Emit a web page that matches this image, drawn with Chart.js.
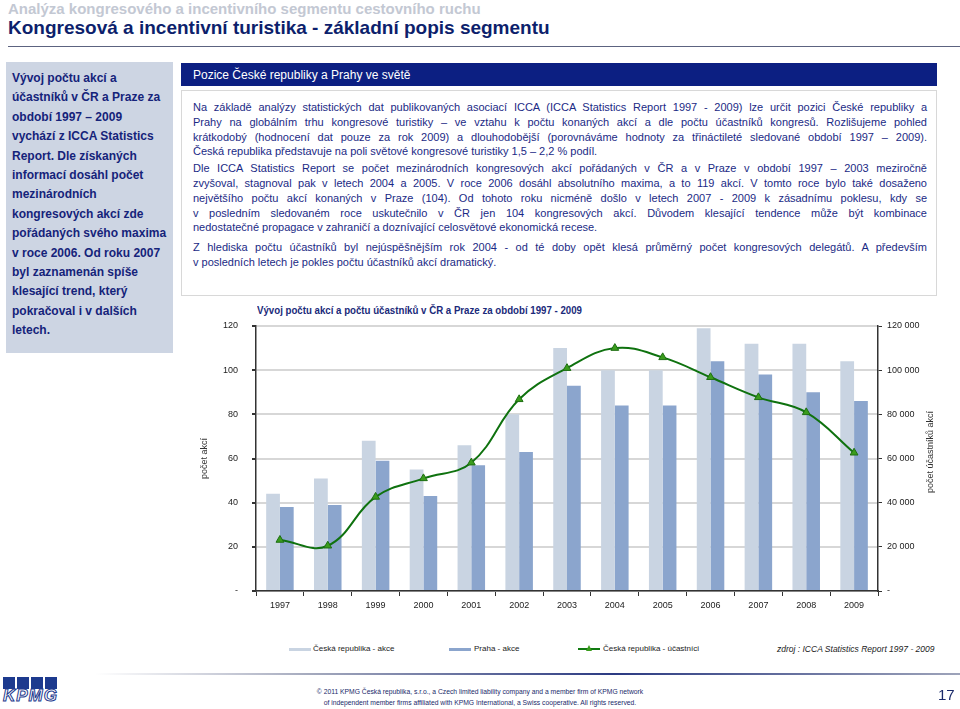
<!DOCTYPE html>
<html>
<head>
<meta charset="utf-8">
<script src="https://cdn.jsdelivr.net/npm/chart.js@4.4.1/dist/chart.umd.min.js"></script>
<style>
  body { margin: 0; width: 960px; height: 709px; position: relative; overflow: hidden; background: #fff;
         font-family: "Liberation Sans", Arial, sans-serif; }
  .abs { position: absolute; white-space: nowrap; }
  #sup { left: 8px; top: 0px; font-size: 15px; font-weight: bold; color: #c3c8d3; }
  #head { left: 8px; top: 17px; font-size: 19px; font-weight: bold; color: #0d1f6c; }
  #rule { left: 8px; top: 46px; width: 952px; height: 1px; background: #5c6380; }
  #side { left: 6px; top: 62px; width: 167px; height: 291px; background: #cdd5e3; }
  #sideText { left: 12px; top: 69px; font-size: 12px; font-weight: bold; color: #15237a; line-height: 19.4px; }
  #bar { left: 181px; top: 63px; width: 756px; height: 23px; background: #0c1f82; }
  #barText { left: 193px; top: 68px; font-size: 12px; color: #fff; }
  #box { left: 181px; top: 90px; width: 754px; height: 204px; border: 1px solid #d8d8d8; }
  #body { left: 193px; top: 100px; width: 734px; font-size: 11px; color: #1b2a85; line-height: 14.8px; }
  #body div { white-space: nowrap; }
  #body .j { text-align: justify; text-align-last: justify; }
  #body .p { margin-top: 2px; }
  #body .p3 { margin-top: 5px; }
  #ctitle { left: 257px; top: 304px; font-size: 11px; font-weight: bold; color: #1a2a7a; transform: scaleX(0.88); transform-origin: left; }
  #canvasWrap { left: 190px; top: 300px; width: 760px; height: 320px; }
  #rtitle { left: 930px; top: 452px; font-size: 9px; color: #333; transform: translate(-50%, -50%) rotate(-90deg); }
  .leg { top: 644px; font-size: 8px; color: #222; }
  .sw { position: absolute; top: 648px; width: 22px; height: 3px; }
  #zdroj { left: 777px; top: 644px; font-size: 8.5px; font-style: italic; color: #222; }
  #fline { left: 95px; top: 673px; width: 865px; height: 2px;
           background: linear-gradient(to right, rgba(160,165,185,0) 0%, #a4a9bd 25%, #2b3a82 60%, #9ea4ba 100%); }
  #copy { left: 480px; top: 686px; transform: translateX(-50%) scaleX(0.9); font-size: 7.5px; color: #1a2a6a; text-align: center; line-height: 11px; }
  #page { left: 938px; top: 686px; font-size: 15px; color: #1a2a6a; }
  .kb { position: absolute; top: 677px; width: 12px; height: 12px; background: #1d3a8e; }
  #klogo { left: 3px; top: 686px; font-size: 17px; font-style: italic; font-weight: bold; color: #fff;
           -webkit-text-stroke: 1px #1d3a8e; letter-spacing: 1px; }
</style>
</head>
<body>
<div id="sup" class="abs">Analýza kongresového a incentivního segmentu cestovního ruchu</div>
<div id="head" class="abs">Kongresová a incentivní turistika - základní popis segmentu</div>
<div id="rule" class="abs"></div>

<div id="side" class="abs"></div>
<div id="sideText" class="abs">Vývoj počtu akcí a<br>účastníků v ČR a Praze za<br>období 1997 – 2009<br>vychází z ICCA Statistics<br>Report. Dle získaných<br>informací dosáhl počet<br>mezinárodních<br>kongresových akcí zde<br>pořádaných svého maxima<br>v roce 2006. Od roku 2007<br>byl zaznamenán spíše<br>klesající trend, který<br>pokračoval i v dalších<br>letech.</div>

<div id="bar" class="abs"></div>
<div id="barText" class="abs">Pozice České republiky a Prahy ve světě</div>
<div id="box" class="abs"></div>
<div id="body" class="abs">
  <div class="j">Na základě analýzy statistických dat publikovaných asociací ICCA (ICCA Statistics Report 1997 - 2009) lze určit pozici České republiky a</div>
  <div class="j">Prahy na globálním trhu kongresové turistiky – ve vztahu k počtu konaných akcí a dle počtu účastníků kongresů. Rozlišujeme pohled</div>
  <div class="j">krátkodobý (hodnocení dat pouze za rok 2009) a dlouhodobější (porovnáváme hodnoty za třináctileté sledované období 1997 – 2009).</div>
  <div>Česká republika představuje na poli světové kongresové turistiky 1,5 – 2,2 % podíl.</div>
  <div class="j p">Dle ICCA Statistics Report se počet mezinárodních kongresových akcí pořádaných v ČR a v Praze v období 1997 – 2003 meziročně</div>
  <div class="j">zvyšoval, stagnoval pak v letech 2004 a 2005. V roce 2006 dosáhl absolutního maxima, a to 119 akcí. V tomto roce bylo také dosaženo</div>
  <div class="j">největšího počtu akcí konaných v Praze (104). Od tohoto roku nicméně došlo v letech 2007 - 2009 k zásadnímu poklesu, kdy se</div>
  <div class="j">v posledním sledovaném roce uskutečnilo v ČR jen 104 kongresových akcí. Důvodem klesající tendence může být kombinace</div>
  <div>nedostatečné propagace v zahraničí a doznívající celosvětové ekonomická recese.</div>
  <div class="j p3">Z hlediska počtu účastníků byl nejúspěšnějším rok 2004 - od té doby opět klesá průměrný počet kongresových delegátů. A především</div>
  <div>v posledních letech je pokles počtu účastníků akcí dramatický.</div>
</div>

<div id="ctitle" class="abs">Vývoj počtu akcí a počtu účastníků v ČR a Praze za období 1997 - 2009</div>
<div id="canvasWrap" class="abs"><canvas id="chart"></canvas></div>
<div id="rtitle" class="abs">počet účastníků akcí</div>

<div class="sw" style="left:289px;background:#c9d4e2;"></div>
<div class="leg abs" style="left:313px;">Česká republika - akce</div>
<div class="sw" style="left:449px;background:#8ba5cd;"></div>
<div class="leg abs" style="left:474px;">Praha - akce</div>
<div class="sw" style="left:578px;top:648px;height:2px;background:#117a11;"></div>
<div class="abs" style="left:586px;top:645px;width:0;height:0;border-left:3.5px solid transparent;border-right:3.5px solid transparent;border-bottom:6px solid #3a9c1c;"></div>
<div class="leg abs" style="left:603px;">Česká republika - účastníci</div>
<div id="zdroj" class="abs">zdroj : ICCA Statistics Report 1997 - 2009</div>

<div id="fline" class="abs"></div>
<div class="kb" style="left:3px;"></div>
<div class="kb" style="left:17px;"></div>
<div class="kb" style="left:31px;"></div>
<div class="kb" style="left:45px;"></div>
<div id="klogo" class="abs">KPMG</div>
<div id="copy" class="abs">© 2011 KPMG Česká republika, s.r.o., a Czech limited liability company and a member firm of KPMG network<br>of independent member firms affiliated with KPMG International, a Swiss cooperative. All rights reserved.</div>
<div id="page" class="abs">17</div>

<script>
const years = ['1997', '1998', '1999', '2000', '2001', '2002', '2003', '2004', '2005', '2006', '2007', '2008', '2009'];
const crAkce = [44, 51, 68, 55, 66, 80, 110, 100, 100, 119, 112, 112, 104];
const prahaAkce = [38, 39, 59, 43, 57, 63, 93, 84, 84, 104, 98, 90, 86];
const crUcastnici = [23100, 20500, 42600, 51000, 58100, 86800, 100900, 110000, 105800, 96800, 87700, 80900, 62600];
const leftTicks = [0, 20, 40, 60, 80, 100, 120];
const rightTicks = [0, 20000, 40000, 60000, 80000, 100000, 120000];

const tickFont = { family: '"Liberation Sans", Arial, sans-serif', size: 9 };

function fmtThousands(v) {
    if (v === 0) return '-';
    return String(v).replace(/\B(?=(\d{3})+(?!\d))/g, ' ');
}

const ctx = document.getElementById('chart').getContext('2d');
new Chart(ctx, {
    data: {
        labels: years,
        datasets: [
            {
                type: 'line',
                label: 'Česká republika - účastníci',
                data: crUcastnici,
                yAxisID: 'y1',
                borderColor: '#0f720f',
                borderWidth: 2,
                tension: 0.4,
                pointStyle: 'triangle',
                pointRadius: 4.5,
                pointBackgroundColor: '#3a9c1c',
                pointBorderColor: '#1d6e12',
                pointBorderWidth: 1,
                order: 0
            },
            {
                type: 'bar',
                label: 'Česká republika - akce',
                data: crAkce,
                yAxisID: 'y',
                backgroundColor: '#c9d4e2',
                categoryPercentage: 0.575,
                barPercentage: 1,
                order: 1
            },
            {
                type: 'bar',
                label: 'Praha - akce',
                data: prahaAkce,
                yAxisID: 'y',
                backgroundColor: '#8ba5cd',
                categoryPercentage: 0.575,
                barPercentage: 1,
                order: 1
            }
        ]
    },
    options: {
        responsive: true,
        maintainAspectRatio: false,
        animation: false,
        layout: { padding: { top: 26, left: 9, right: 10, bottom: 0 } },
        plugins: { legend: { display: false }, tooltip: { enabled: false } },
        scales: {
            x: {
                offset: true,
                grid: { offset: true, drawOnChartArea: false, drawTicks: true, tickLength: 5, tickColor: '#333' },
                border: { color: '#333', width: 1.5 },
                ticks: { color: '#222', font: tickFont, padding: 4, maxRotation: 0, autoSkip: false },
                afterFit(s) { s.height = 29; }
            },
            y: {
                position: 'left',
                min: 0,
                max: 120,
                afterBuildTicks(s) { s.ticks = leftTicks.map(v => ({ value: v })); },
                ticks: { color: '#222', font: tickFont, padding: 14, callback: v => v === 0 ? '-' : v },
                grid: { color: '#d7d7d7', lineWidth: 2, tickColor: '#333', tickLength: 4 },
                border: { color: '#333', width: 1.5 },
                title: { display: true, text: 'počet akcí', color: '#333', font: tickFont, padding: 0 },
                afterFit(s) { s.width = 57; }
            },
            y1: {
                position: 'right',
                min: 0,
                max: 120000,
                afterBuildTicks(s) { s.ticks = rightTicks.map(v => ({ value: v })); },
                ticks: { color: '#222', font: tickFont, padding: 5, callback: v => fmtThousands(v) },
                grid: { drawOnChartArea: false, tickColor: '#333', tickLength: 4 },
                border: { color: '#333', width: 1.5 },
                afterFit(s) { s.width = 62; }
            }
        }
    }
});
</script>
</body>
</html>
